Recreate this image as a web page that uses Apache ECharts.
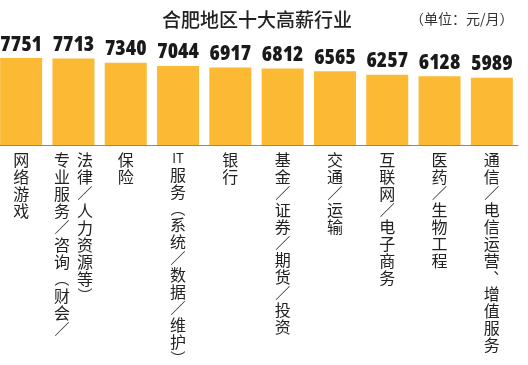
<!DOCTYPE html>
<html>
<head>
<meta charset="utf-8">
<script src="https://cdn.jsdelivr.net/npm/echarts@6/dist/echarts.min.js"></script>
<style>
    html, body { margin: 0; padding: 0; background: #fff; }
    #main { width: 528px; height: 365px; }
</style>
</head>
<body>
<div id="main"></div>
<script>
// 行业名称
var categories = ['网络游戏', '专业服务/咨询(财会/法律/人力资源等)', '保险', 'IT服务(系统/数据/维护)', '银行',
    '基金/证券/期货/投资', '交通/运输', '互联网/电子商务', '医药/生物工程', '通信/电信运营、增值服务'];
// 平均月薪（元/月）
var salaries = [7751, 7713, 7340, 7044, 6917, 6812, 6565, 6257, 6128, 5989];
// 竖排标签分栏（第二项排成两栏）
var labelColumns = [
    ['网络游戏'],
    ['专业服务/咨询(财会/', '法律/人力资源等)'],
    ['保险'],
    ['IT服务(系统/数据/维护)'],
    ['银行'],
    ['基金/证券/期货/投资'],
    ['交通/运输'],
    ['互联网/电子商务'],
    ['医药/生物工程'],
    ['通信/电信运营、增值服务']
];

var cjkFont = '"Noto Sans CJK SC", sans-serif';
var numFont = '"Open Sans", Roboto, sans-serif';

// 竖排时标点换成竖排形式
var vertMap = { '/': '／', '(': '︵', ')': '︶', '、': '︑' };

function splitTokens(str) {
    return str.match(/IT|./g) || [];
}

function vertLabel(value, index) {
    var cols = labelColumns[index] || [value];
    var tokenCols = cols.map(splitTokens);
    var rows = 0;
    tokenCols.forEach(function (t) { rows = Math.max(rows, t.length); });
    var two = tokenCols.length > 1;
    var lines = [];
    for (var r = 0; r < rows; r++) {
        var line = '';
        for (var c = 0; c < tokenCols.length; c++) {
            var t = tokenCols[c][r];
            var style;
            if (t === undefined) {
                style = 'b';
                t = ' ';
            } else if (t === 'IT') {
                style = 'e';
            } else if (vertMap[t]) {
                style = 'p';
                t = vertMap[t];
            } else {
                style = 'c';
            }
            if (two) style = style + '2';
            line += '{' + style + '|' + t + '}';
        }
        lines.push(line);
    }
    return lines.join('\n');
}

var baseRich = {
    c: { fontSize: 16, lineHeight: 17, width: 18, align: 'center', fontFamily: cjkFont, color: '#222' },   //汉字
    p: { fontSize: 15, lineHeight: 16, width: 18, align: 'center', fontFamily: cjkFont, color: '#222' },   //标点
    e: { fontSize: 13, lineHeight: 15, width: 18, align: 'center', fontFamily: cjkFont, color: '#222' },   //英文 IT
    b: { fontSize: 16, lineHeight: 15, width: 18, align: 'center', fontFamily: cjkFont, color: '#222' }    //空位
};
var rich = {};
Object.keys(baseRich).forEach(function (k) {
    rich[k] = baseRich[k];
    rich[k + '2'] = Object.assign({}, baseRich[k], { width: 23 });
});

var myChart = echarts.init(document.getElementById('main'));
var option = {
    backgroundColor: '#fff',
    animation: false,
    graphic: [
        {
            type: 'text',
            left: 162,
            top: 10,
            style: {
                text: '合肥地区十大高薪行业',
                fontSize: 19,
                fontWeight: 500,
                fontFamily: cjkFont,
                fill: '#222'
            }
        },
        {
            type: 'text',
            left: 410,
            top: 12,
            style: {
                text: '（单位：元/月）',
                fontSize: 14,
                fontFamily: cjkFont,
                fill: '#333'
            }
        }
    ],
    grid: {
        left: -5,
        right: 10,
        top: 44,
        bottom: 220,
        containLabel: false,
        outerBoundsMode: 'none'
    },
    xAxis: {
        type: 'category',
        data: categories,
        axisLine: { show: true, lineStyle: { color: '#888', width: 1 } },
        axisTick: { show: false },
        axisLabel: {
            interval: 0,
            margin: 6,
            formatter: vertLabel,
            rich: rich
        }
    },
    yAxis: {
        type: 'value',
        min: 0,
        max: 9000,
        show: false,
        splitLine: { show: false }
    },
    series: [
        {
            type: 'bar',
            data: salaries,
            barWidth: 42,
            itemStyle: { color: '#fbb934' },
            z: 1,
            label: {
                show: true,
                position: 'top',
                distance: 3,
                fontStyle: 'condensed',          //窄体
                fontFamily: numFont,
                fontWeight: 800,
                fontSize: 21,
                color: '#1a1a1a'
            }
        }
    ]
};
myChart.setOption(option);
</script>
</body>
</html>
